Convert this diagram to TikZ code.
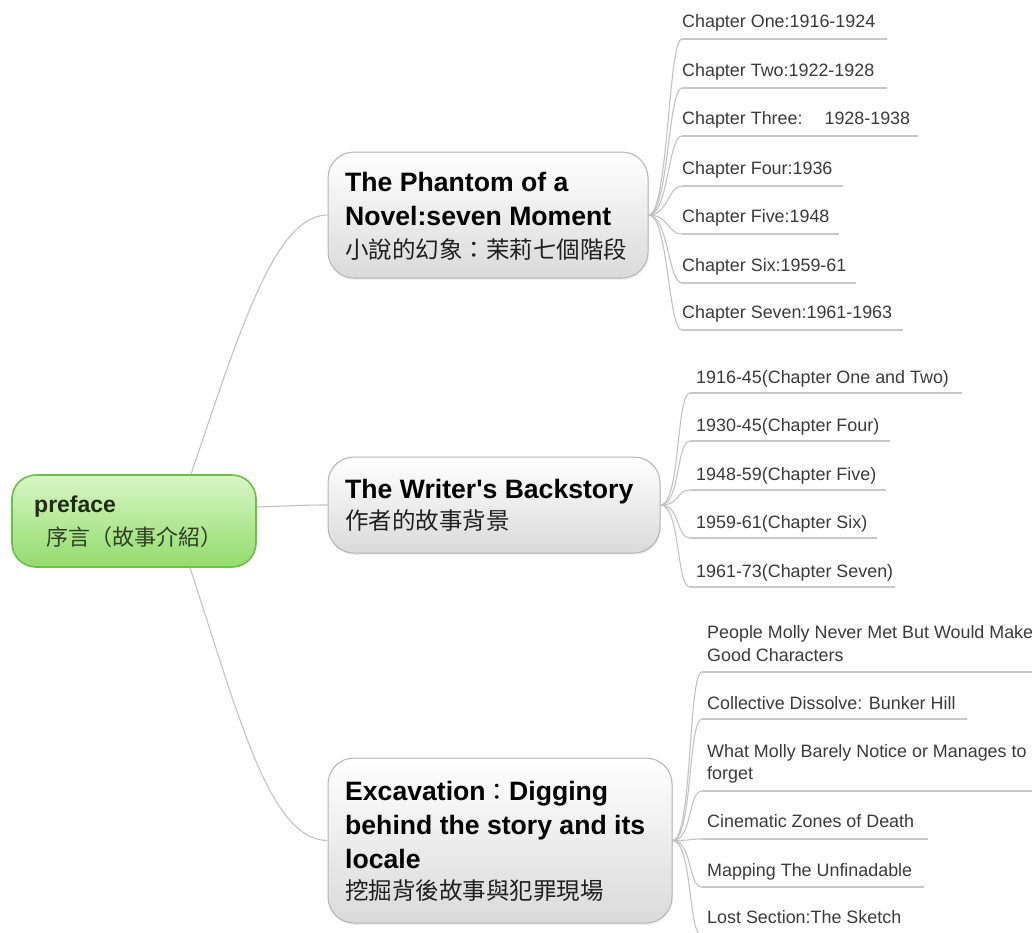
\documentclass[tikz,border=0pt]{standalone}
\usepackage{fontspec}
\setmainfont{Liberation Sans}[Ligatures=TeXOff]
\newfontfamily\cjk{Noto Sans CJK TC}
\usetikzlibrary{shadows}
\definecolor{linegray}{HTML}{C2C2C2}
\definecolor{ulgray}{HTML}{C8C8C8}
\definecolor{boxgray}{HTML}{B4B4B4}
\definecolor{boxbot}{HTML}{DADADA}
\definecolor{roottop}{HTML}{D8F6C6}
\definecolor{rootbot}{HTML}{92DC6C}
\definecolor{rootborder}{HTML}{6CBF45}
\definecolor{leafcol}{HTML}{3A3A3A}
\definecolor{cjkcol}{HTML}{202020}
\definecolor{rootcol}{HTML}{1E2D0F}
\begin{document}
\begin{tikzpicture}[x=1pt,y=-1pt,
  conn/.style={draw=linegray, line width=1.1pt},
  uline/.style={draw=ulgray, line width=1.6pt},
  mainbox/.style={draw=boxgray, line width=1pt, rounded corners=26pt, top color=white, bottom color=boxbot, inner sep=0pt,
    drop shadow={opacity=0.12, shadow xshift=1pt, shadow yshift=-2pt}},
  rootbox/.style={draw=rootborder, line width=1.6pt, rounded corners=24pt, top color=roottop, bottom color=rootbot, inner sep=0pt},
  leaftext/.style={anchor=base west, inner sep=0pt, font=\fontsize{17.9}{21}\selectfont, text=leafcol},
  boldtext/.style={anchor=base west, inner sep=0pt, font=\fontsize{26.6}{30}\selectfont\bfseries, text=black},
  cjktext/.style={anchor=base west, inner sep=0pt, font=\fontsize{23.5}{28}\selectfont\cjk, text=cjkcol},
  rootbold/.style={anchor=base west, inner sep=0pt, font=\fontsize{23}{27}\selectfont\bfseries, text=rootcol},
  rootcjk/.style={anchor=base west, inner sep=0pt, font=\fontsize{22}{27}\selectfont\cjk, text=rootcol!80!gray},
]
\useasboundingbox (0,0) rectangle (1032,932);
\clip (0,0) rectangle (1032,932);

% ---------- main nodes ----------
\node[rootbox, minimum width=244pt, minimum height=92pt] (root) at (134,521) {};
\node[mainbox, minimum width=320pt, minimum height=126pt] (n1) at (488,215) {};
\node[mainbox, minimum width=332pt, minimum height=96pt] (n2) at (494,505) {};
\node[mainbox, minimum width=344pt, minimum height=165pt] (n3) at (500,840.5) {};

% ---------- texts in main nodes ----------
\node[rootbold] (rt1) at (34,512) {preface};
\node[rootcjk] (rt2) at (46,545) {序言（故事介紹）};

\node[boldtext] (t1a) at (345,191) {The Phantom of a};
\node[boldtext] (t1b) at (345,225) {Novel:seven Moment};
\node[cjktext] (t1c) at (345,258) {小說的幻象：茉莉七個階段};

\node[boldtext] (t2a) at (345,498) {The Writer's Backstory};
\node[cjktext] (t2b) at (345,529) {作者的故事背景};

\node[boldtext] (t3a) at (345,800) {Excavation{\cjk\mdseries\fontsize{23.5}{28}\selectfont ：}Digging};
\node[boldtext] (t3b) at (345,834) {behind the story and its};
\node[boldtext] (t3c) at (345,868) {locale};
\node[cjktext] (t3d) at (345,899) {挖掘背後故事與犯罪現場};

% ---------- root connectors ----------
\draw[conn] ([xshift=57pt]root.north) .. controls (240,330) and (275,215) .. (n1.west);
\draw[conn] ([yshift=14pt]root.east) .. controls (290,506) and (300,505) .. (n2.west);
\draw[conn] ([xshift=56pt]root.south) .. controls (240,720) and (270,840) .. (n3.west);

% ---------- leaves of n1 ----------
\foreach \i/\yu/\xe/\txt in {1/39/887/{Chapter One:1916-1924},
                             2/88/887/{Chapter Two:1922-1928},
                             3/136/918/{Chapter Three:\hspace{22pt}1928-1938},
                             4/186/843/{Chapter Four:1936},
                             5/234/839/{Chapter Five:1948},
                             6/283/856/{Chapter Six:1959-61},
                             7/330/903/{Chapter Seven:1961-1963}}{
  \coordinate (a1\i) at (682,\yu);
  \coordinate (b1\i) at (\xe,\yu);
  \draw[conn] (n1.east) .. controls +(20,0) and +(-14,0) .. (a1\i);
  \draw[uline] (a1\i) -- (b1\i);
  \node[leaftext] (l1\i) at (682,\yu-12) {\txt};
}

% ---------- leaves of n2 ----------
\foreach \i/\yu/\xe/\txt in {1/393/962/{1916-45(Chapter One and Two)},
                             2/441/890/{1930-45(Chapter Four)},
                             3/490/886/{1948-59(Chapter Five)},
                             4/538/877/{1959-61(Chapter Six)},
                             5/587/895/{1961-73(Chapter Seven)}}{
  \coordinate (a2\i) at (690,\yu);
  \coordinate (b2\i) at (\xe,\yu);
  \draw[conn] (n2.east) .. controls +(20,0) and +(-14,0) .. (a2\i);
  \draw[uline] (a2\i) -- (b2\i);
  \node[leaftext] (l2\i) at (696,\yu-10) {\txt};
}

% ---------- leaves of n3 ----------
\foreach \i/\yu/\xe in {1/672/1040, 2/719/967, 3/791/1040, 4/839/928, 5/887/924, 6/936/940}{
  \coordinate (a3\i) at (702,\yu);
  \coordinate (b3\i) at (\xe,\yu);
  \draw[conn] (n3.east) .. controls +(20,0) and +(-14,0) .. (a3\i);
  \draw[uline] (a3\i) -- (b3\i);
}
\node[leaftext] (l31a) at (707,638) {People Molly Never Met But Would Make};
\node[leaftext] (l31b) at (707,661) {Good Characters};
\node[leaftext] (l32)  at (707,709) {Collective Dissolve: Bunker Hill};
\node[leaftext] (l33a) at (707,757) {What Molly Barely Notice or Manages to};
\node[leaftext] (l33b) at (707,779) {forget};
\node[leaftext] (l34)  at (707,827) {Cinematic Zones of Death};
\node[leaftext] (l35)  at (707,876) {Mapping The Unfinadable};
\node[leaftext] (l36)  at (707,923) {Lost Section:The Sketch};
\end{tikzpicture}
\end{document}
